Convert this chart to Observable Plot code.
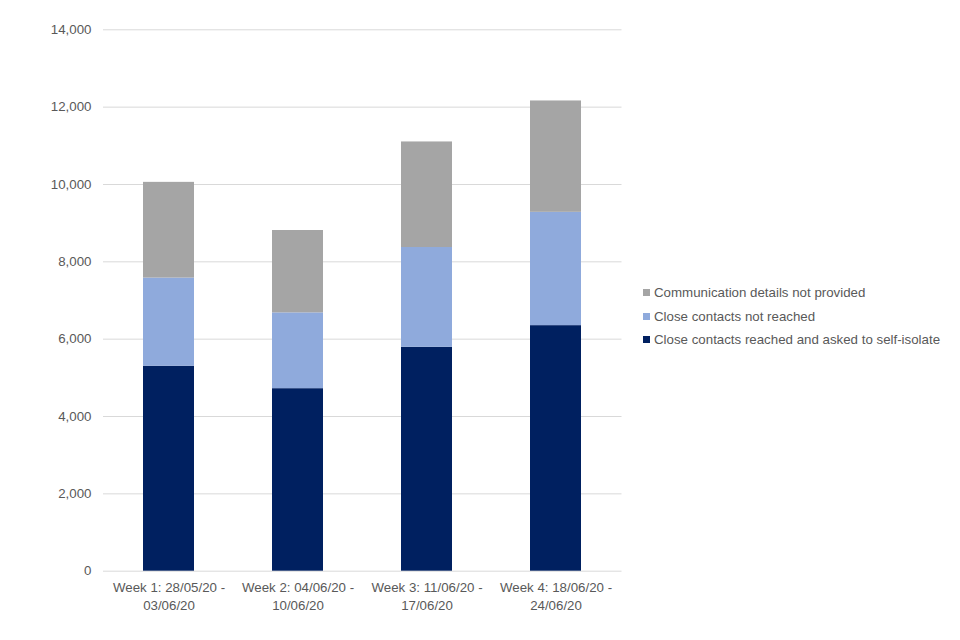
<!DOCTYPE html>
<html>
<head>
<meta charset="utf-8">
<script src="https://cdn.jsdelivr.net/npm/d3@7"></script>
<script src="https://cdn.jsdelivr.net/npm/@observablehq/plot@0.6"></script>
<style>
  body { margin: 0; background: #fff; font-family: "Liberation Sans", Arial, sans-serif; }
  #wrap { position: relative; width: 960px; height: 640px; }
  #legend { position: absolute; left: 643px; top: 281px; font-size: 13.3px; color: #595959; }
  .item { display: flex; align-items: center; height: 23.5px; }
  .sw { width: 7px; height: 7px; margin-right: 4px; }
</style>
</head>
<body>
<div id="wrap"><div id="legend"></div></div>
<script>
const weeks = ["Week 1: 28/05/20 -\n03/06/20", "Week 2: 04/06/20 -\n10/06/20", "Week 3: 11/06/20 -\n17/06/20", "Week 4: 18/06/20 -\n24/06/20"];
const series = ["Close contacts reached and asked to self-isolate", "Close contacts not reached", "Communication details not provided"];
const reached = [5300, 4720, 5790, 6350];
const notReached = [2280, 1960, 2580, 2930];
const noDetails = [2475, 2130, 2730, 2880];
const colors = ["#002060", "#8faadc", "#a5a5a5"];
const yTicks = [0, 2000, 4000, 6000, 8000, 10000, 12000, 14000];

const values = [reached, notReached, noDetails];
const data = [];
series.forEach((s, i) => weeks.forEach((w, j) => data.push({week: w, series: s, value: values[i][j]})));

const chart = Plot.plot({
  width: 960,
  height: 640,
  marginLeft: 103,
  marginRight: 338.5,
  marginTop: 29.3,
  marginBottom: 69.3,
  style: {fontFamily: "'Liberation Sans', Arial, sans-serif", fontSize: "13.3px", color: "#595959", background: "#fff"},
  x: {domain: weeks, paddingInner: 0.606, paddingOuter: 0.303, label: null},
  y: {domain: [0, 14000], label: null},
  color: {domain: series, range: colors},
  marks: [
    Plot.ruleY(yTicks, {stroke: "#d9d9d9", strokeWidth: 1}),
    Plot.barY(data, Plot.stackY({order: series, x: "week", y: "value", fill: "series"})),
    Plot.axisY({ticks: yTicks, tickSize: 0, tickPadding: 12, tickFormat: d3.format(","), fill: "#595959", fontSize: 13.3}),
    Plot.axisX({tickSize: 0, tickPadding: 8, fill: "#595959", fontSize: 13.3, lineHeight: 1.35})
  ]
});
document.getElementById("wrap").prepend(chart);

const legend = document.getElementById("legend");
[2, 1, 0].forEach(i => {
  const it = document.createElement("div");
  it.className = "item";
  it.innerHTML = `<span class="sw" style="background:${colors[i]}"></span><span>${series[i]}</span>`;
  legend.appendChild(it);
});
</script>
</body>
</html>
